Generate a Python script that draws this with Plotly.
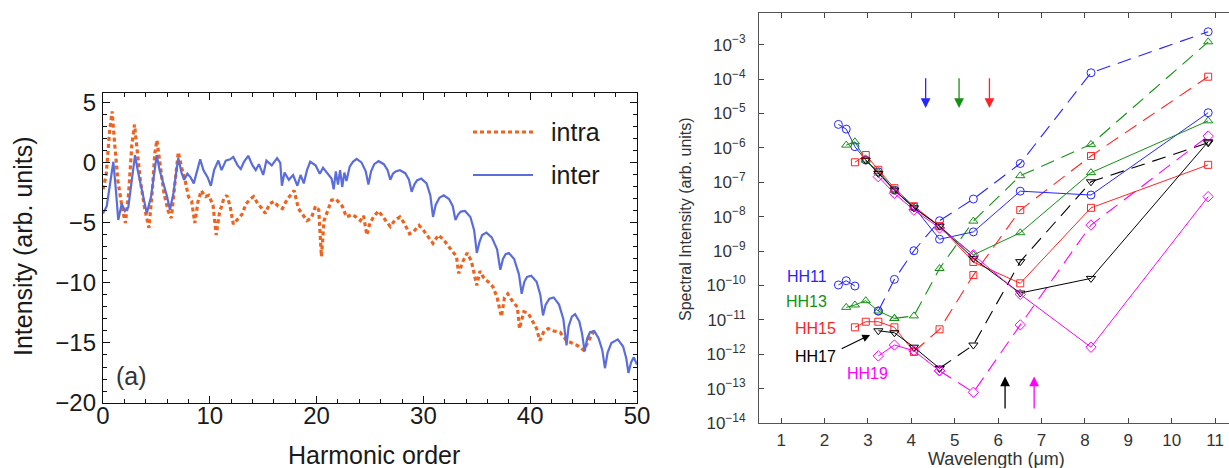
import plotly.graph_objects as go

# ---------------- Panel (a): harmonic spectra ----------------
inter_h = [0, 0.35, 0.7, 0.97, 1.2, 1.43, 1.75, 2.05, 2.37, 2.7, 3.0, 3.25, 3.5, 3.8, 4.1, 4.5, 4.8, 5.03, 5.3, 5.65,
           6.0, 6.27, 6.6, 6.85, 7.05, 7.35, 7.6, 7.9, 8.2, 8.5, 8.8, 9.1, 9.4, 9.8, 10.1, 10.4, 10.8, 11.1, 11.5, 11.9,
           12.2, 12.6, 12.9, 13.2, 13.6, 14.0, 14.3, 14.6, 15.0, 15.3, 15.8, 16.3, 16.6, 16.75, 17.0, 17.4, 17.8, 18.2,
           18.5, 18.8, 19.1, 19.4, 19.9, 20.3, 20.6, 21.0, 21.4, 21.6, 21.8, 22.0, 22.2, 22.4, 22.6, 22.8, 23.1,
           23.4, 23.75, 24.2, 24.6, 24.85,
           25.1, 25.4, 25.8, 26.3, 26.65, 26.9,
           27.15, 27.4, 27.8, 28.3, 28.65, 28.9,
           29.15, 29.4, 29.8, 30.3, 30.65, 30.9,
           31.15, 31.5, 31.9, 32.4, 32.75, 33.0,
           33.25, 33.5, 33.9, 34.4, 34.75, 35.0,
           35.25, 35.5, 35.9, 36.4, 36.9, 37.2,
           37.45, 37.7, 38.0, 38.5, 38.95, 39.2,
           39.45, 39.7, 40.1, 40.6, 40.95, 41.2,
           41.45, 41.8, 42.2, 42.7, 43.1, 43.4,
           43.6, 43.9, 44.2, 44.6, 44.85, 45.1,
           45.35, 45.6, 46.0, 46.4, 46.75, 47.0,
           47.25, 47.6, 48.2, 48.7, 49.0, 49.2,
           49.45, 49.7, 50.0]
inter_v = [-4.2, -3.6, -1.5, 0.1, -2.2, -4.75, -3.4, -4.0, -3.7, -1.2, 0.65, -0.6, -1.6, -3.0, -4.2, -2.8, -0.8, 0.65, -0.6, -1.7,
           -2.8, -3.9, -2.5, -0.8, 0.4, -0.8, -1.4, -0.9, -1.2, -1.7, -0.6, 0.3, -0.6, -1.2, -1.9, -0.6, 0.2, -0.6, 0.2, 0.3,
           0.5, -0.2, -0.5, 0.1, 0.6, -0.2, -0.6, -0.1, -1.0, 0.2, -0.2, 0.4, 0.0, -1.9, -0.8, -1.4, -1.0, -1.9,
           -1.0, -1.7, -0.6, 0.1, -0.2, -0.9, -0.4, -0.9, -1.3, -2.2, -0.7, -1.8, -0.6, -2.0, -0.8, -1.5, -0.3,
           0.1, 0.35, 0.05, -0.7, -1.8,
           -0.7, -0.1, 0.15, -0.1, -0.6, -1.4,
           -0.9, -0.7, -0.6, -0.85, -1.4, -2.4,
           -1.8, -1.45, -1.3, -1.7, -2.7, -4.5,
           -3.5, -2.9, -2.7, -3.0, -3.6, -4.75,
           -4.3, -4.05, -4.0, -4.5, -5.6, -7.5,
           -6.6, -6.0, -5.8, -6.2, -7.2, -8.9,
           -8.0, -7.6, -7.5, -8.0, -9.3, -10.9,
           -9.9, -9.5, -9.4, -9.9, -11.0, -12.7,
           -11.8, -11.3, -11.2, -11.8, -13.0, -15.2,
           -13.6, -12.8, -12.6, -13.2, -14.2, -15.7,
           -14.6, -14.1, -14.0, -14.6, -15.6, -17.1,
           -15.8, -15.0, -14.7, -15.3, -16.3, -17.5,
           -16.6, -16.2, -16.8]

intra_h = [0, 0.3, 0.6, 0.85, 1.1, 1.4, 1.8, 2.1, 2.4, 2.7, 2.95, 3.2, 3.5, 3.9, 4.3, 4.6, 4.85, 5.05, 5.3, 5.7,
           6.1, 6.4, 6.7, 7.05, 7.4, 7.7, 8.0, 8.3, 8.6, 8.9, 9.2, 9.6, 9.9, 10.3, 10.6, 10.9, 11.3, 11.6, 11.9, 12.2,
           12.6, 13.0, 13.4, 13.8, 14.1, 14.5, 14.8, 15.2, 15.6, 16.0, 16.4, 16.8, 17.2, 17.6, 17.9, 18.3, 18.7, 19.1,
           19.5, 19.9, 20.2, 20.45, 20.7, 21.0, 21.4, 21.8, 22.1, 22.4, 22.8, 23.3, 23.7, 24.1, 24.4, 24.7, 25.0, 25.4,
           25.8, 26.2, 26.6, 26.9, 27.3, 27.8, 28.2, 28.7, 29.1, 29.6, 30.0, 30.5, 30.9, 31.4, 31.9, 32.4, 32.8, 33.1,
           33.3, 33.7, 34.1, 34.5, 35.0, 35.3, 35.6, 36.0, 36.5, 36.9, 37.3, 37.6, 37.9, 38.4, 38.8, 39.0, 39.4, 39.8,
           40.2, 40.6, 40.9, 41.3, 41.7, 42.2, 42.8, 43.4, 43.9, 44.4, 45.0, 45.5, 45.9, 46.3]
intra_v = [-2.2, -1.0, 2.5, 4.3, 1.5, -1.5, -3.8, -5.0, -2.5, 1.5, 3.2, 1.2, -1.5, -3.8, -5.4, -2.5, 0.8, 1.9, 0.3, -2.5,
           -4.0, -4.6, -2.0, 0.9, -0.5, -1.5, -2.8, -3.2, -5.0, -3.2, -2.3, -2.8, -2.7, -3.5, -6.0, -4.2, -3.0, -2.7, -3.6, -5.1,
           -4.7, -4.3, -3.4, -3.0, -2.8, -3.4, -3.7, -4.2, -3.4, -3.2, -3.6, -3.8, -3.1, -2.6, -2.3, -3.8, -4.3, -4.8,
           -4.6, -3.6, -3.9, -7.8, -4.8, -4.0, -3.1, -3.0, -3.3, -3.6, -4.5, -4.3, -4.5, -4.8, -4.4, -6.0, -5.0, -4.4,
           -4.0, -4.5, -5.0, -5.3, -4.8, -4.5, -5.0, -5.9, -5.7, -5.2, -5.6, -6.2, -6.7, -6.0, -6.4, -7.0, -7.4, -7.8,
           -9.2, -8.2, -7.5, -8.2, -10.2, -9.0, -9.5, -9.9, -10.3, -11.2, -12.8, -11.2, -10.9, -11.6, -12.0, -13.8, -12.4, -12.5,
           -13.2, -13.8, -14.8, -14.0, -13.8, -14.0, -14.1, -14.8, -15.0, -15.2, -15.6, -14.8, -14.1, -14.2]

# ---------------- Panel (b): spectral intensity vs wavelength ----------------
wavelength = [2.32, 2.5, 2.7, 2.95, 3.24, 3.61, 4.06, 4.65, 5.43, 6.51, 8.14, 10.84]

hh11_upper = [4.8e-6, 3.5e-6, 1.08e-6, 4.4e-7, 2.0e-7, 5.9e-8, 1.9e-8, 2.2e-9, 3.6e-9, 5.5e-8, 4.25e-8, 1.05e-5]
hh11_lower = [1.03e-10, 1.37e-10, 9.6e-11, None, 1.8e-11, 1.5e-10, 1.02e-9, 7.6e-9, 3.25e-8, 3.5e-7, 1.52e-4, 2.37e-3]
hh13_upper = [None, 1.2e-6, 1.5e-6, 4.4e-7, 2.0e-7, 5.9e-8, 1.8e-8, 5.3e-9, 7.7e-10, 3.4e-9, 1.9e-7, 6.1e-6]
hh13_lower = [None, 2.3e-11, 2.7e-11, 3.6e-11, 1.8e-11, 1.1e-11, 1.3e-11, 3.1e-10, 7.4e-9, 1.55e-7, 1.26e-6, 1.21e-3]
hh15_upper = [None, None, 3.8e-7, 6.2e-7, 2.3e-7, 6.7e-8, 2.0e-8, 5.3e-9, 4.8e-10, 1.15e-10, 1.8e-8, 3.2e-7]
hh15_lower = [None, None, 6.05e-12, 8.8e-12, 8.8e-12, 6.05e-12, 1.18e-12, 5.3e-12, 2.0e-10, 1.55e-8, 5.8e-7, 1.17e-4]
hh17_upper = [None, None, None, 4.4e-7, 1.8e-7, 5.9e-8, 1.8e-8, 5.3e-9, 6.1e-10, 6.0e-11, 1.6e-10, 1.5e-6]
hh17_lower = [None, None, None, None, 4.8e-12, 4.2e-12, 1.6e-12, 3.9e-13, 1.85e-12, 4.9e-10, 1.03e-7, 1.4e-6]
hh19_upper = [None, None, None, None, 1.45e-7, 4.75e-8, 1.55e-8, 4.7e-9, 7.7e-10, 5.5e-11, 1.6e-12, 3.8e-8]
hh19_lower = [None, None, None, None, 8.9e-13, 1.85e-12, 1.26e-12, 3.3e-13, 7.8e-14, 7.1e-12, 5.7e-9, 2.2e-6]

harmonic_labels = ["HH11", "HH13", "HH15", "HH17", "HH19"]
dash_start = [4, 5, 6, 7, 7]          # index where the lower branch becomes dashed
cutoff_top = [4.33, 5.10, 5.80]       # down arrows (HH11, HH13, HH15)
cutoff_bottom = [6.16, 6.83]          # up arrows (HH17, HH19)

colors = ["#2626ff", "#149014", "#ff2424", "#000000", "#ff00ff"]
symbols = ["circle-open", "triangle-up-open", "square-open", "triangle-down-open", "diamond-open"]
uppers = [hh11_upper, hh13_upper, hh15_upper, hh17_upper, hh19_upper]
lowers = [hh11_lower, hh13_lower, hh15_lower, hh17_lower, hh19_lower]

W, H = 1229, 468
FONT = "Liberation Sans, Arial, Helvetica, sans-serif"

fig = go.Figure()

fig.add_trace(go.Scatter(x=intra_h, y=intra_v, mode="lines", xaxis="x", yaxis="y",
                         line=dict(color="#ec6420", width=3.2, dash="4px,3px"), showlegend=False))
fig.add_trace(go.Scatter(x=inter_h, y=inter_v, mode="lines", xaxis="x", yaxis="y",
                         line=dict(color="#5b6ddb", width=2.2), showlegend=False))

for i in range(5):
    c, s = colors[i], symbols[i]
    k = dash_start[i]
    mk = dict(symbol=s, size=8 if i != 2 else 7, color=c, line=dict(color=c, width=1))
    fig.add_trace(go.Scatter(x=wavelength[k:], y=lowers[i][k:], mode="lines+markers", xaxis="x2", yaxis="y2",
                             line=dict(color=c, width=1.1, dash="14px,8px"), marker=mk, showlegend=False))
    fig.add_trace(go.Scatter(x=wavelength[:k + 1], y=lowers[i][:k + 1], mode="lines+markers", xaxis="x2", yaxis="y2",
                             line=dict(color=c, width=1), marker=mk, connectgaps=False, showlegend=False))
for i in range(5):
    c, s = colors[i], symbols[i]
    mk = dict(symbol=s, size=8 if i != 2 else 7, color=c, line=dict(color=c, width=1))
    fig.add_trace(go.Scatter(x=wavelength, y=uppers[i], mode="lines+markers", xaxis="x2", yaxis="y2",
                             line=dict(color=c, width=1), marker=mk, connectgaps=False, showlegend=False))


def px(v):
    return v / W


def py(v):
    return 1 - v / H


fig.update_layout(
    template="none",
    width=W, height=H, margin=dict(l=0, r=0, t=0, b=0, pad=0), autosize=False,
    paper_bgcolor="white", plot_bgcolor="white",
    font=dict(family=FONT, color="#222"),
    xaxis=dict(domain=[px(103), px(637)], range=[0, 50], tickvals=[0, 10, 20, 30, 40, 50],
               ticks="inside", ticklen=7, tickwidth=1.2, tickcolor="#111",
               minor=dict(dtick=2, tick0=0, ticks="inside", ticklen=4, tickcolor="#111", showgrid=False),
               showline=True, linecolor="#111", linewidth=1.4, mirror="allticks", automargin=False,
               showgrid=False, zeroline=False, tickfont=dict(size=24, color="#1a1a1a"), anchor="y",
               ticklabelstandoff=-9),
    yaxis=dict(domain=[py(403), py(93)], range=[-20, 5.83], tickvals=[-20, -15, -10, -5, 0, 5],
               ticks="inside", ticklen=7, tickwidth=1.2, tickcolor="#111",
               minor=dict(dtick=1, tick0=0, ticks="inside", ticklen=4, tickcolor="#111", showgrid=False),
               showline=True, linecolor="#111", linewidth=1.4, mirror="allticks", automargin=False,
               showgrid=False, zeroline=False, tickfont=dict(size=24, color="#1a1a1a"), anchor="x",
               ticklabelstandoff=1),
    xaxis2=dict(domain=[px(759), 1.0], range=[0.49, 11.32], tickvals=list(range(1, 12)),
                ticks="inside", ticklen=5, tickcolor="#444", showline=True, linecolor="#555", linewidth=1,
                mirror="ticks", showgrid=False, zeroline=False, tickfont=dict(size=17, color="#333"),
                anchor="y2", ticklabelstandoff=2, automargin=False),
    yaxis2=dict(domain=[py(423), py(13)], type="log", range=[-14, -2.08],
                tickvals=[10.0 ** -e for e in range(14, 2, -1)],
                ticktext=["10<sup>\u2212%d</sup>" % e for e in range(14, 2, -1)],
                ticks="inside", ticklen=5, tickcolor="#444", showline=True, linecolor="#555", linewidth=1,
                mirror=False, showgrid=False, zeroline=False, tickfont=dict(size=17, color="#333"),
                anchor="x2", ticklabelstandoff=9, automargin=False),
)


def txt(text, x, y, size, color="#1a1a1a", angle=0, xanchor="center"):
    return dict(text=text, x=x, y=y, xref="paper", yref="paper", textangle=angle, showarrow=False,
                xanchor=xanchor, yanchor="middle", font=dict(size=size, color=color))


ann = [
    txt("Intensity (arb. units)", px(23), py(246), 25, angle=-90),
    txt("Harmonic order", px(374), py(455), 25),
    txt("(a)", px(131), py(376), 25, "#333"),
    txt("intra", px(549), py(132), 25, xanchor="left"),
    txt("inter", px(549), py(175), 25, xanchor="left"),
    txt("Spectral Intensity (arb. units)", px(685), py(219), 16, "#333", angle=-90),
    txt("Wavelength (\u03bcm)", px(996), py(459), 18, "#333"),
]
label_pos = [(1.588, -9.727), (1.588, -10.474), (1.795, -11.247), (1.795, -12.073), (2.998, -12.555)]
for lab, (lx, ly), c in zip(harmonic_labels, label_pos, colors):
    ann.append(dict(text=lab, x=lx, y=ly, xref="x2", yref="y2", showarrow=False,
                    xanchor="center", yanchor="middle", font=dict(size=16, color=c)))
ann.append(dict(x=3.05, y=-11.44, ax=2.36, ay=-11.86, xref="x2", yref="y2", axref="x2", ayref="y2",
                showarrow=True, arrowhead=2, arrowsize=1.3, arrowwidth=1.2, arrowcolor="#000", text=""))
for xv, c in zip(cutoff_top, colors[:3]):
    ann.append(dict(x=xv, y=-4.84, ax=xv, ay=-3.93, xref="x2", yref="y2", axref="x2", ayref="y2",
                    showarrow=True, arrowhead=2, arrowsize=1.5, arrowwidth=1.3, arrowcolor=c, text=""))
for xv, c in zip(cutoff_bottom, colors[3:]):
    ann.append(dict(x=xv, y=-12.65, ax=xv, ay=-13.62, xref="x2", yref="y2", axref="x2", ayref="y2",
                    showarrow=True, arrowhead=2, arrowsize=1.5, arrowwidth=1.3, arrowcolor=c, text=""))
fig.update_layout(annotations=ann)

fig.add_shape(type="line", xref="paper", yref="paper", x0=px(473), x1=px(533), y0=py(132), y1=py(132),
              line=dict(color="#ec6420", width=3.2, dash="4px,3px"))
fig.add_shape(type="line", xref="paper", yref="paper", x0=px(473), x1=px(533), y0=py(175), y1=py(175),
              line=dict(color="#5b6ddb", width=2.2))

fig.write_html("out.html")
